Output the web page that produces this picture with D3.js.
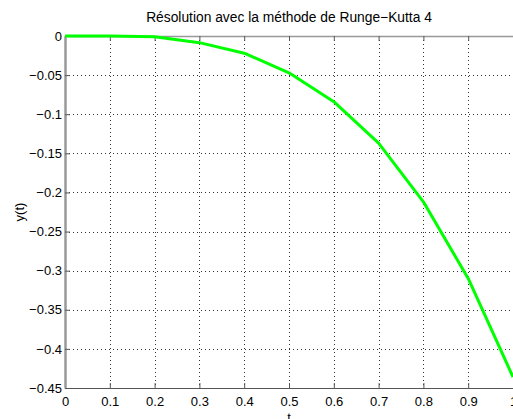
<!DOCTYPE html>
<html>
<head>
<meta charset="utf-8">
<script src="https://cdn.jsdelivr.net/npm/d3@7"></script>
<style>
  body { margin: 0; background: #fff; }
  svg { display: block; font-family: "Liberation Sans", Arial, sans-serif; }
</style>
</head>
<body>
<div id="grafica"></div>
<script>
// RK4 solution, step h = 0.1
const tValues = [0, 0.1, 0.2, 0.3, 0.4, 0.5, 0.6, 0.7, 0.8, 0.9, 1.0];
const yValues = [0, -0.0001, -0.001, -0.0085, -0.022, -0.047, -0.084, -0.137, -0.212, -0.31, -0.436];
const xTicks = [0, 0.1, 0.2, 0.3, 0.4, 0.5, 0.6, 0.7, 0.8, 0.9, 1];
const yTicks = [0, -0.05, -0.1, -0.15, -0.2, -0.25, -0.3, -0.35, -0.4, -0.45];
const titleText = "Résolution avec la méthode de Runge\u2212Kutta 4";

const W = 513, H = 419;
const g = { top: 36, right: 0, bottom: 31, left: 65 };
const w = W - g.left - g.right, h = H - g.top - g.bottom;

const svg = d3.select("#grafica").append("svg").attr("width", W).attr("height", H);
const x = d3.scaleLinear().domain([0, 1]).range([0, w]);
const y = d3.scaleLinear().domain([-0.45, 0]).range([h, 0]);
const fmt = d => d3.format("")(d).replace("-", "\u2212");

const plot = svg.append("g").attr("transform", "translate(" + g.left + "," + g.top + ")");

// dotted grid
plot.append("g").selectAll("line.vx").data(xTicks.slice(1)).enter().append("line")
  .attr("x1", d => Math.round(x(d)) + 0.5).attr("x2", d => Math.round(x(d)) + 0.5)
  .attr("y1", 0).attr("y2", h)
  .attr("stroke", "#333").attr("stroke-width", 1).attr("stroke-dasharray", "1,3");
plot.append("g").selectAll("line.hy").data(yTicks.slice(1, -1)).enter().append("line")
  .attr("y1", d => Math.round(y(d)) + 0.5).attr("y2", d => Math.round(y(d)) + 0.5)
  .attr("x1", 0).attr("x2", w)
  .attr("stroke", "#333").attr("stroke-width", 1).attr("stroke-dasharray", "1,3");

// box
plot.append("line").attr("x1", 0).attr("x2", w).attr("y1", 0.5).attr("y2", 0.5)
  .attr("stroke", "#999").attr("stroke-width", 1.5);
plot.append("line").attr("x1", 0.5).attr("x2", 0.5).attr("y1", 0).attr("y2", h)
  .attr("stroke", "#999").attr("stroke-width", 2);

// axes with inward ticks
const xAxis = plot.append("g").attr("transform", "translate(0," + h + ")")
  .call(d3.axisBottom(x).tickValues(xTicks).tickSizeInner(-5).tickSizeOuter(0).tickPadding(9).tickFormat(fmt));
const xTop = plot.append("g")
  .call(d3.axisTop(x).tickValues(xTicks).tickSizeInner(-5).tickSizeOuter(0).tickFormat(""));
const yAxis = plot.append("g")
  .call(d3.axisLeft(y).tickValues(yTicks).tickSizeInner(-5).tickSizeOuter(0).tickPadding(3).tickFormat(fmt));
[xAxis, xTop, yAxis].forEach(a => {
  a.select(".domain").attr("stroke", "#555");
  a.selectAll(".tick line").attr("stroke", "#555");
  a.selectAll(".tick text").attr("fill", "#000").attr("font-size", 13)
    .attr("font-family", "Liberation Sans, Arial, sans-serif");
});
yAxis.select(".domain").attr("stroke", "#999").attr("stroke-width", 2);
xTop.select(".domain").attr("stroke", "#999");

// solution curve
const line = d3.line().x((d, i) => x(tValues[i])).y(d => y(d));
plot.append("path").datum(yValues).attr("d", line)
  .attr("fill", "none").attr("stroke", "#00ff00").attr("stroke-width", 3)
  .attr("stroke-linejoin", "round");

// labels
svg.append("text").attr("x", g.left + w / 2).attr("y", 22).attr("text-anchor", "middle")
  .attr("font-size", 13.8).text(titleText);
svg.append("text").attr("transform", "translate(24," + (g.top + h / 2) + ") rotate(-90)")
  .attr("text-anchor", "middle").attr("font-size", 13).text("y(t)");
svg.append("text").attr("x", g.left + w / 2).attr("y", 422).attr("text-anchor", "middle")
  .attr("font-size", 13).text("t");
</script>
</body>
</html>
